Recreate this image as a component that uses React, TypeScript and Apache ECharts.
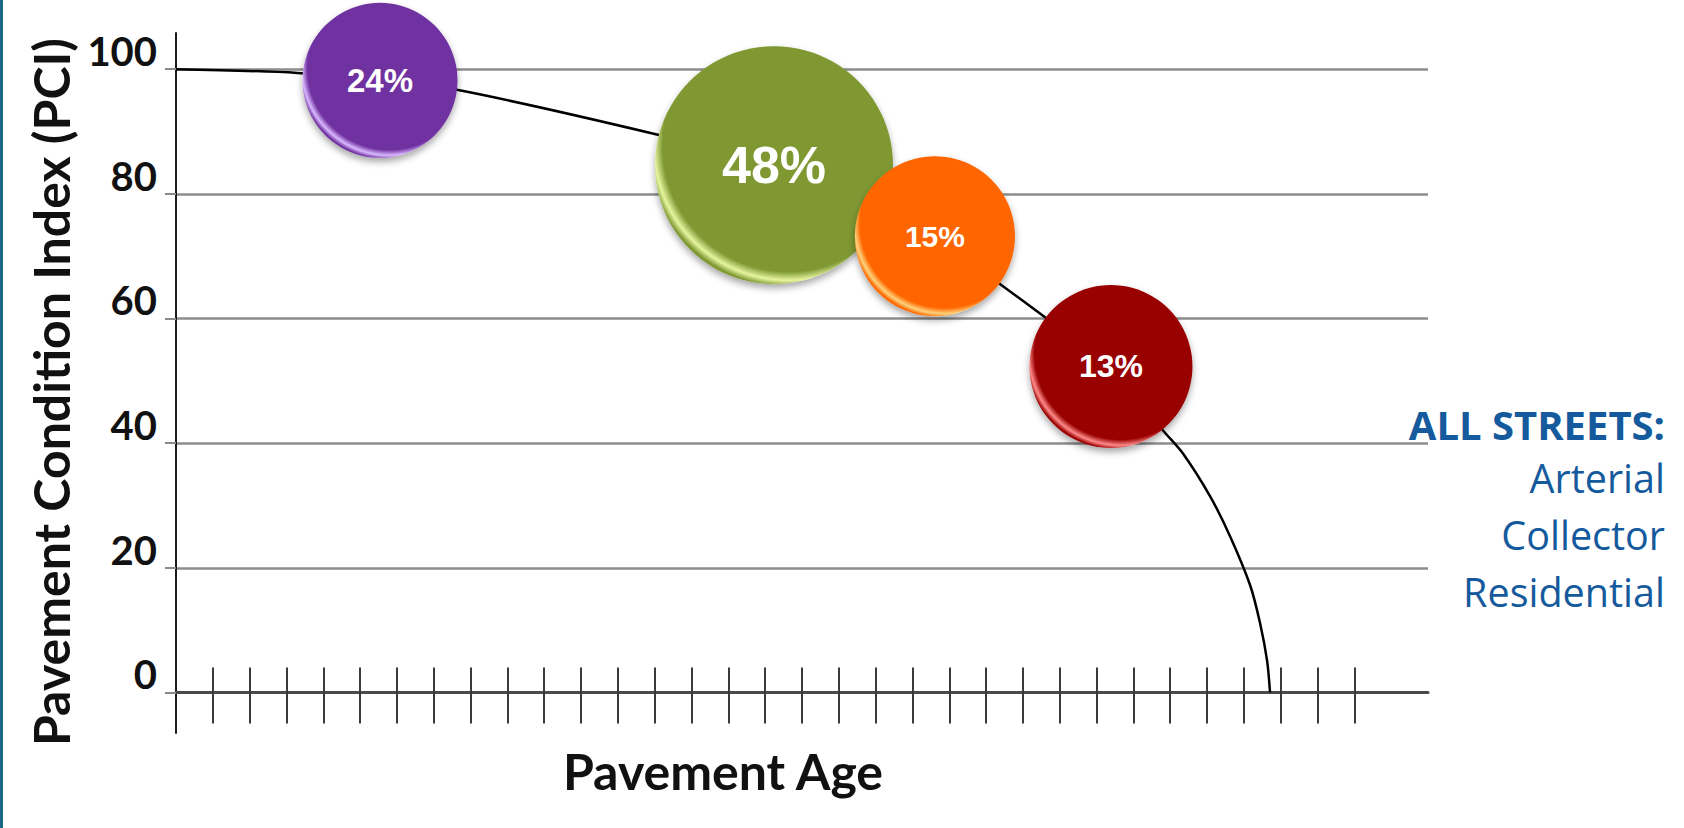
import React, { useEffect, useRef } from "react";
import * as echarts from "echarts";

const pciTicks = [0, 20, 40, 60, 80, 100];
const ageTicks = [1, 2, 3, 4, 5, 6, 7, 8, 9, 10, 11, 12, 13, 14, 15, 16, 17, 18, 19, 20, 21, 22, 23, 24, 25, 26, 27, 28, 29, 30, 31, 32];

const curveAge = [0, 3.3, 5.54, 7.7, 13.0, 16.24, 20.61, 22.43, 23.6, 25.39, 26.81, 27.35, 28.08, 28.63, 29.17, 29.44, 29.63, 29.71];
const curvePci = [100, 99.4, 98.2, 96.6, 89.6, 84.6, 73.2, 65.3, 60.2, 52.3, 42.0, 38.3, 31.5, 25.0, 17.2, 11.1, 5.1, 0];

const bubbleAge = [5.54, 16.24, 20.61, 25.39];
const bubblePci = [98.2, 84.6, 73.2, 52.3];
const bubbleShare = ["24%", "48%", "15%", "13%"];
const bubbleSize = [155, 238, 160, 163];
const bubbleColors = ["#7030A0", "#7F9833", "#FF6600", "#990000"];
const bubbleHighlights = ["#D9B8FF", "#E6F59E", "#FFD27A", "#FF8A8A"];
const bubbleFontSizes = [33, 52, 30, 32];

const yAxisTitle = "Pavement Condition Index (PCI)";
const xAxisTitle = "Pavement Age";
const legendTitle = "ALL STREETS:";
const legendItems = ["Arterial", "Collector", "Residential"];

export default function App() {
  const ref = useRef<HTMLDivElement>(null);

  useEffect(() => {
    if (!ref.current) return;
    const chart = echarts.init(ref.current, undefined, { renderer: "svg" });

    const bubbleData = bubbleAge.map((a, i) => ({
      value: [a, bubblePci[i], bubbleSize[i]],
      itemStyle: {
        opacity: 1,
        color: {
          type: "radial",
          x: 0.56,
          y: 0.42,
          r: 0.6,
          colorStops: [
            { offset: 0, color: bubbleColors[i] },
            { offset: 0.88, color: bubbleColors[i] },
            { offset: 0.94, color: bubbleHighlights[i] },
            { offset: 0.985, color: bubbleColors[i] },
            { offset: 1, color: bubbleColors[i] },
          ],
        },
        shadowBlur: 7,
        shadowColor: "rgba(0,0,0,0.35)",
        shadowOffsetY: 4,
      },
      label: {
        show: true,
        position: "inside",
        formatter: bubbleShare[i],
        color: "#ffffff",
        fontFamily: "Liberation Sans",
        fontWeight: "bold",
        fontSize: bubbleFontSizes[i],
      },
    }));

    const textStyleBase = (
      text: string,
      font: string,
      fill: string,
      align: string,
    ) => ({
      text,
      font,
      fill,
      textAlign: align,
      align,
      textVerticalAlign: "middle",
      verticalAlign: "middle",
    });

    chart.setOption({
      animation: false,
      backgroundColor: "#ffffff",
      grid: {
        left: 176,
        right: 256,
        top: 33,
        bottom: 95,
        containLabel: false,
        outerBoundsMode: "none",
      },
      xAxis: [
        {
          type: "value",
          min: 0,
          max: 34,
          position: "bottom",
          axisLine: {
            show: true,
            onZero: true,
            onZeroAxisIndex: 0,
            lineStyle: { color: "#4a4a4a", width: 3 },
          },
          axisTick: {
            show: true,
            customValues: ageTicks,
            inside: true,
            length: 25,
            lineStyle: { color: "#3a3a3a", width: 2 },
          },
          axisLabel: { show: false },
          splitLine: { show: false },
        },
        {
          type: "value",
          min: 0,
          max: 34,
          position: "bottom",
          axisLine: {
            show: false,
            onZero: true,
            onZeroAxisIndex: 0,
          },
          axisTick: {
            show: true,
            customValues: ageTicks,
            inside: false,
            length: 31,
            lineStyle: { color: "#3a3a3a", width: 2 },
          },
          axisLabel: { show: false },
          splitLine: { show: false },
        },
      ],
      yAxis: {
        type: "value",
        min: -6.5,
        max: 105.8,
        axisLine: {
          show: true,
          onZero: false,
          lineStyle: { color: "#1a1a1a", width: 2 },
        },
        axisTick: {
          show: true,
          customValues: pciTicks,
          length: 11,
          lineStyle: { color: "#8a8a8a", width: 2 },
        },
        axisLabel: {
          show: true,
          customValues: pciTicks,
          margin: 19,
          color: "#111111",
          fontFamily: "Lato",
          fontWeight: "bold",
          fontSize: 40,
          verticalAlign: "bottom",
          lineHeight: 36,
        },
        splitLine: {
          show: true,
          lineStyle: { color: "#8c8c8c", width: 2.5 },
        },
      },
      series: [
        {
          type: "line",
          xAxisIndex: 0,
          data: curveAge.map((a, i) => [a, curvePci[i]]),
          smooth: 0.3,
          showSymbol: false,
          symbol: "none",
          lineStyle: { color: "#000000", width: 2.5 },
          z: 2,
        },
        {
          type: "scatter",
          xAxisIndex: 0,
          data: bubbleData,
          symbol: "circle",
          symbolSize: (v: number[]) => v[2],
          z: 3,
        },
      ],
      graphic: [
        {
          type: "rect",
          left: 0,
          top: 0,
          shape: { x: 0, y: 0, width: 3, height: 828 },
          style: { fill: "#1B6886" },
        },
        {
          type: "text",
          x: 51,
          y: 392,
          rotation: Math.PI / 2,
          style: textStyleBase(yAxisTitle, "bold 50px Lato", "#111111", "center"),
        },
        {
          type: "text",
          x: 723,
          y: 771,
          style: textStyleBase(xAxisTitle, "bold 50px Lato", "#111111", "center"),
        },
        {
          type: "text",
          x: 1665,
          y: 424,
          style: textStyleBase(legendTitle, "bold 40px 'Open Sans'", "#145A9C", "right"),
        },
        ...legendItems.map((t, i) => ({
          type: "text",
          x: 1665,
          y: 478 + i * 57,
          style: textStyleBase(t, "39.5px 'Open Sans'", "#145A9C", "right"),
        })),
      ],
    });

    return () => chart.dispose();
  }, []);

  return (
    <div
      ref={ref}
      style={{ position: "fixed", left: 0, top: 0, width: 1684, height: 828 }}
    />
  );
}
